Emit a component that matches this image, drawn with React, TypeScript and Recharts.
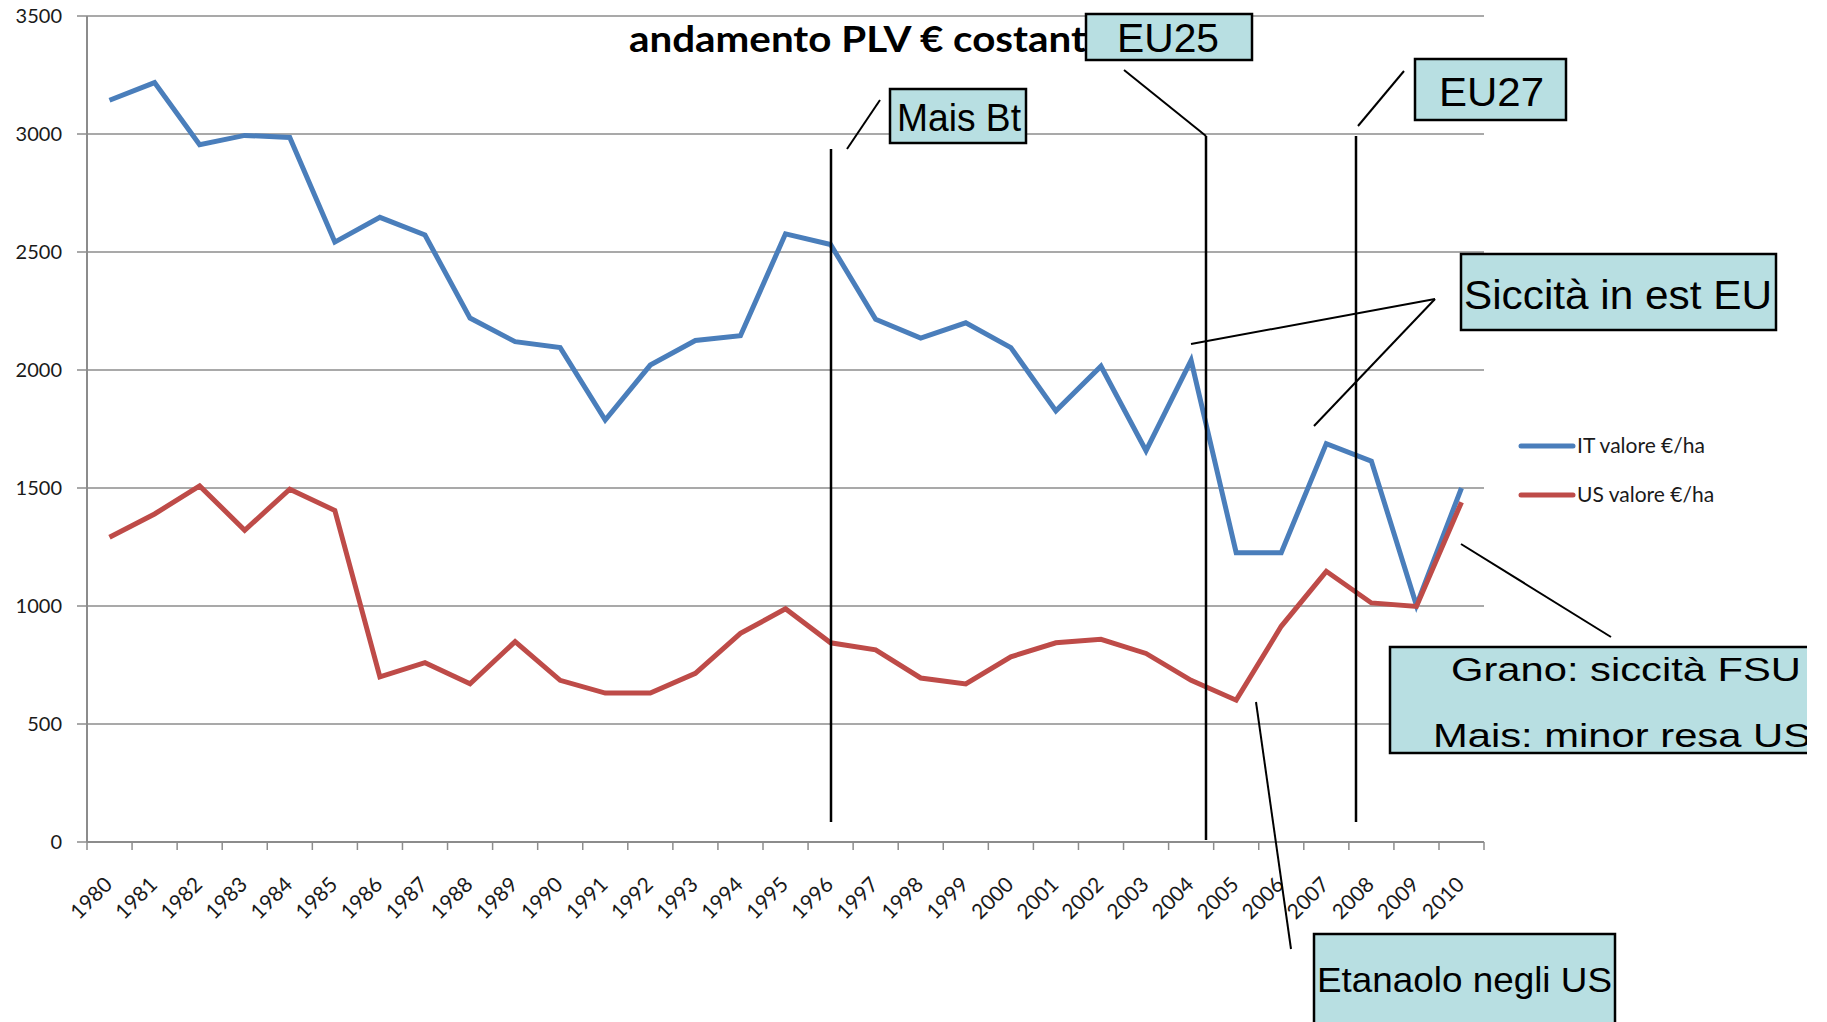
import React from "react";
import { LineChart, Line, XAxis, YAxis, CartesianGrid } from "recharts";

// Anni (categorie)
const years = [
  "1980", "1981", "1982", "1983", "1984", "1985", "1986", "1987", "1988", "1989",
  "1990", "1991", "1992", "1993", "1994", "1995", "1996", "1997", "1998", "1999",
  "2000", "2001", "2002", "2003", "2004", "2005", "2006", "2007", "2008", "2009", "2010",
];

// IT valore €/ha
const itValues = [
  3143, 3218, 2955, 2994, 2985, 2542, 2647, 2572, 2220, 2120,
  2095, 1788, 2021, 2125, 2145, 2577, 2532, 2215, 2135, 2200,
  2095, 1827, 2016, 1658, 2041, 1226, 1226, 1688, 1614, 1003, 1500,
];

// US valore €/ha
const usValues = [
  1291, 1390, 1509, 1321, 1495, 1405, 700, 760, 670, 849,
  685, 631, 631, 715, 884, 988, 844, 814, 695, 670,
  785, 844, 859, 799, 685, 601, 914, 1147, 1013, 998, 1440,
];

const yTicks = [0, 500, 1000, 1500, 2000, 2500, 3000, 3500];

const series = [
  { key: "it", name: "IT valore €/ha", color: "#4a7ebb" },
  { key: "us", name: "US valore €/ha", color: "#be4b48" },
];

const data = years.map((year, i) => ({ year, it: itValues[i], us: usValues[i] }));

const W = 1827;
const H = 1022;
const HALF_BAND = 22.5;
const AXIS_GREY = "#8c8c8c";
const TICK_FONT = "Lato, 'Open Sans', sans-serif";
const BOX_FONT = "'Liberation Sans', Arial, sans-serif";
const BOX_FILL = "#b8dfe2";

function XTick(props: any) {
  const { x, y, payload, index } = props;
  return (
    <g>
      <line x1={x - HALF_BAND} x2={x - HALF_BAND} y1={y} y2={y + 8} stroke={AXIS_GREY} strokeWidth={1.5} />
      {index === years.length - 1 && (
        <line x1={x + HALF_BAND} x2={x + HALF_BAND} y1={y} y2={y + 8} stroke={AXIS_GREY} strokeWidth={1.5} />
      )}
      <text
        transform={`translate(${x + 4},${y + 44}) rotate(-45)`}
        textAnchor="end"
        fontSize={21}
        fontFamily={TICK_FONT}
        fill="#1a1a1a"
      >
        {payload.value}
      </text>
    </g>
  );
}

function YTick(props: any) {
  const { x, y, payload } = props;
  return (
    <text x={x - 15} y={y + 7} textAnchor="end" fontSize={20} fontFamily={TICK_FONT} fill="#1a1a1a">
      {payload.value}
    </text>
  );
}

function Box(props: {
  x: number; y: number; w: number; h: number;
  lines: { text: string; x: number; y: number; len: number; size: number }[];
  clipId?: string; clipW?: number;
}) {
  const { x, y, w, h, lines, clipId, clipW } = props;
  return (
    <g clipPath={clipId ? `url(#${clipId})` : undefined}>
      {clipId && (
        <defs>
          <clipPath id={clipId}>
            <rect x={x - 3} y={y - 3} width={clipW} height={h + 6} />
          </clipPath>
        </defs>
      )}
      <rect x={x} y={y} width={w} height={h} fill={BOX_FILL} stroke="#000" strokeWidth={2.5} />
      {lines.map((l) => (
        <text
          key={l.text}
          x={l.x}
          y={l.y}
          fontSize={l.size}
          fontFamily={BOX_FONT}
          fill="#000"
          textLength={l.len}
          lengthAdjust="spacingAndGlyphs"
        >
          {l.text}
        </text>
      ))}
    </g>
  );
}

function Annotations() {
  const lineStyle = { stroke: "#000", strokeWidth: 2 };
  return (
    <svg width={W} height={H} style={{ position: "absolute", left: 0, top: 0, pointerEvents: "none" }}>
      <text
        x={629}
        y={52}
        fontSize={37}
        fontWeight={700}
        fontFamily={TICK_FONT}
        fill="#000"
        textLength={468}
        lengthAdjust="spacingAndGlyphs"
      >
        andamento PLV € costanti
      </text>

      {/* linee verticali */}
      <line x1={831} x2={831} y1={149} y2={822} stroke="#000" strokeWidth={2.5} />
      <line x1={1206} x2={1206} y1={136} y2={840} stroke="#000" strokeWidth={2.5} />
      <line x1={1356} x2={1356} y1={136} y2={822} stroke="#000" strokeWidth={2.5} />

      {/* linee di richiamo */}
      <line x1={847} y1={149} x2={880} y2={100} {...lineStyle} />
      <line x1={1124} y1={70} x2={1206} y2={136} {...lineStyle} />
      <line x1={1358} y1={126} x2={1404} y2={71} {...lineStyle} />
      <line x1={1435} y1={299} x2={1191} y2={344} {...lineStyle} />
      <line x1={1435} y1={299} x2={1314} y2={426} {...lineStyle} />
      <line x1={1461} y1={544} x2={1611} y2={637} {...lineStyle} />
      <line x1={1256} y1={702} x2={1291} y2={949} {...lineStyle} />

      {/* legenda */}
      {series.map((s, i) => (
        <g key={s.key}>
          <line x1={1521} x2={1573} y1={446 + i * 49} y2={446 + i * 49} stroke={s.color} strokeWidth={5} strokeLinecap="round" />
          <text x={1577} y={453 + i * 49} fontSize={21} fontFamily={TICK_FONT} fill="#1a1a1a">
            {s.name}
          </text>
        </g>
      ))}

      <Box x={890} y={89} w={136} h={54} lines={[{ text: "Mais Bt", x: 897, y: 131, len: 124, size: 38 }]} />
      <Box x={1086} y={14} w={166} h={46} lines={[{ text: "EU25", x: 1117, y: 52, len: 102, size: 40 }]} />
      <Box x={1415} y={59} w={151} h={61} lines={[{ text: "EU27", x: 1439, y: 106, len: 105, size: 40 }]} />
      <Box x={1461} y={254} w={315} h={76} lines={[{ text: "Siccità in est EU", x: 1464, y: 309, len: 308, size: 40 }]} />
      <Box
        x={1390}
        y={647}
        w={440}
        h={106}
        clipId="clipGrano"
        clipW={1807 - 1387}
        lines={[
          { text: "Grano: siccità FSU", x: 1451, y: 681, len: 350, size: 34 },
          { text: "Mais: minor resa US", x: 1433, y: 747, len: 378, size: 34 },
        ]}
      />
      <Box x={1314} y={934} w={301} h={120} lines={[{ text: "Etanaolo negli US", x: 1317, y: 992, len: 295, size: 35 }]} />
    </svg>
  );
}

export default function App() {
  return (
    <div style={{ position: "absolute", left: 0, top: 0, width: W, height: H, background: "#fff", overflow: "hidden" }}>
      <LineChart width={W} height={H} data={data} margin={{ top: 16, right: 343, bottom: 120, left: 0 }}>
        <CartesianGrid vertical={false} stroke={AXIS_GREY} strokeWidth={1.5} />
        <XAxis
          dataKey="year"
          height={60}
          interval={0}
          padding={{ left: HALF_BAND, right: HALF_BAND }}
          tickSize={0}
          tickMargin={0}
          tickLine={false}
          axisLine={{ stroke: AXIS_GREY, strokeWidth: 2 }}
          tick={<XTick />}
        />
        <YAxis
          domain={[0, 3500]}
          ticks={yTicks}
          width={87}
          tickSize={10}
          tickMargin={0}
          interval={0}
          axisLine={{ stroke: AXIS_GREY, strokeWidth: 2 }}
          tickLine={{ stroke: AXIS_GREY, strokeWidth: 1.5 }}
          tick={<YTick />}
        />
        {series.map((s) => (
          <Line
            key={s.key}
            type="linear"
            dataKey={s.key}
            name={s.name}
            stroke={s.color}
            strokeWidth={5}
            dot={false}
            activeDot={false}
            isAnimationActive={false}
          />
        ))}
      </LineChart>
      <Annotations />
    </div>
  );
}
